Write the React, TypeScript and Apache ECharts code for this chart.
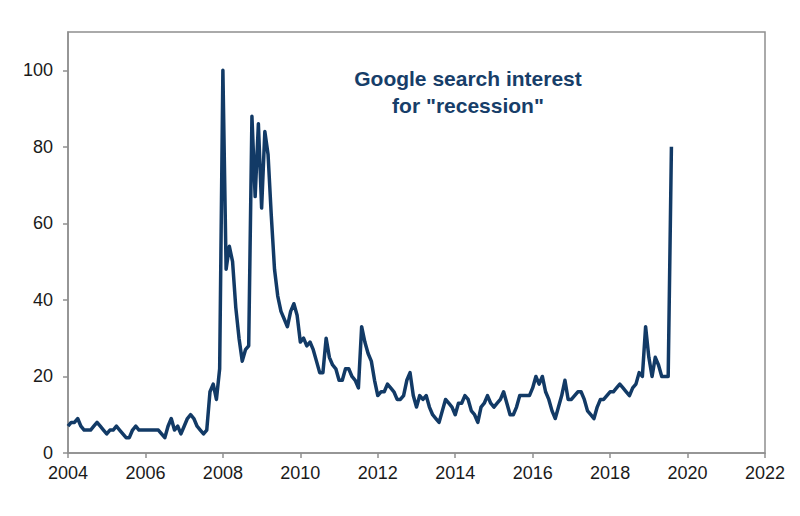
import React, { useEffect, useRef } from "react";
import * as echarts from "echarts";

// Monthly Google search interest for "recession", starting January 2004
const startYear = 2004;
const values2004 = [7, 8, 8, 9, 7, 6, 6, 6, 7, 8, 7, 6];
const values2005 = [5, 6, 6, 7, 6, 5, 4, 4, 6, 7, 6, 6];
const values2006 = [6, 6, 6, 6, 6, 5, 4, 7, 9, 6, 7, 5];
const values2007 = [7, 9, 10, 9, 7, 6, 5, 6, 16, 18, 14, 22];
const values2008 = [100, 48, 54, 50, 38, 30, 24, 27, 28, 88, 67, 86];
const values2009 = [64, 84, 78, 62, 48, 41, 37, 35, 33, 37, 39, 36];
const values2010 = [29, 30, 28, 29, 27, 24, 21, 21, 30, 25, 23, 22];
const values2011 = [19, 19, 22, 22, 20, 19, 17, 33, 29, 26, 24, 19];
const values2012 = [15, 16, 16, 18, 17, 16, 14, 14, 15, 19, 21, 15];
const values2013 = [12, 15, 14, 15, 12, 10, 9, 8, 11, 14, 13, 12];
const values2014 = [10, 13, 13, 15, 14, 11, 10, 8, 12, 13, 15, 13];
const values2015 = [12, 13, 14, 16, 13, 10, 10, 12, 15, 15, 15, 15];
const values2016 = [17, 20, 18, 20, 16, 14, 11, 9, 12, 15, 19, 14];
const values2017 = [14, 15, 16, 16, 14, 11, 10, 9, 12, 14, 14, 15];
const values2018 = [16, 16, 17, 18, 17, 16, 15, 17, 18, 21, 20, 33];
const values2019 = [25, 20, 25, 23, 20, 20, 20, 80];

const yTickValues = [0, 20, 40, 60, 80, 100];
const titleLines = ["Google search interest", 'for "recession"'];

const allValues = [
  ...values2004, ...values2005, ...values2006, ...values2007,
  ...values2008, ...values2009, ...values2010, ...values2011,
  ...values2012, ...values2013, ...values2014, ...values2015,
  ...values2016, ...values2017, ...values2018, ...values2019,
];

const FONT = "'Liberation Sans', Arial, sans-serif";
const AXIS_COLOR = "#8f8f8f";
const LINE_COLOR = "#123a66";

export default function App() {
  const ref = useRef<HTMLDivElement>(null);

  useEffect(() => {
    document.body.style.margin = "0";
    if (!ref.current) return;
    const chart = echarts.init(ref.current, null, { renderer: "svg" });
    const data = allValues.map((v, i) => [startYear + i / 12, v]);

    chart.setOption({
      animation: false,
      backgroundColor: "#ffffff",
      grid: {
        left: 68,
        right: 35,
        top: 32,
        bottom: 63,
        show: true,
        borderColor: AXIS_COLOR,
        borderWidth: 1.5,
        backgroundColor: "transparent",
      },
      xAxis: {
        type: "value",
        min: 2004,
        max: 2022,
        interval: 2,
        axisLine: { show: true, lineStyle: { color: AXIS_COLOR, width: 1.5 } },
        axisTick: { show: true, length: 5, lineStyle: { color: AXIS_COLOR, width: 1.5 } },
        splitLine: { show: false },
        axisLabel: {
          color: "#1a1a1a",
          fontFamily: FONT,
          fontSize: 18,
          margin: 11,
          formatter: (v: number) => String(Math.round(v)),
        },
      },
      yAxis: {
        type: "value",
        min: 0,
        max: 110,
        axisLine: { show: true, lineStyle: { color: AXIS_COLOR, width: 1.5 } },
        axisTick: {
          show: true,
          length: 5,
          customValues: yTickValues,
          lineStyle: { color: AXIS_COLOR, width: 1.5 },
        },
        splitLine: { show: false },
        axisLabel: {
          color: "#1a1a1a",
          fontFamily: FONT,
          fontSize: 18,
          margin: 15,
          customValues: yTickValues,
        },
      },
      graphic: [
        {
          type: "text",
          x: 468,
          y: 65,
          style: {
            text: titleLines.join("\n"),
            fill: "#173e69",
            font: `bold 21px ${FONT}`,
            textAlign: "center",
            lineHeight: 27,
          },
        },
      ],
      series: [
        {
          type: "line",
          data,
          showSymbol: false,
          lineStyle: { color: LINE_COLOR, width: 3.5, join: "round" },
          itemStyle: { color: LINE_COLOR },
        },
      ],
    });

    return () => chart.dispose();
  }, []);

  return <div ref={ref} style={{ width: 800, height: 516 }} />;
}
